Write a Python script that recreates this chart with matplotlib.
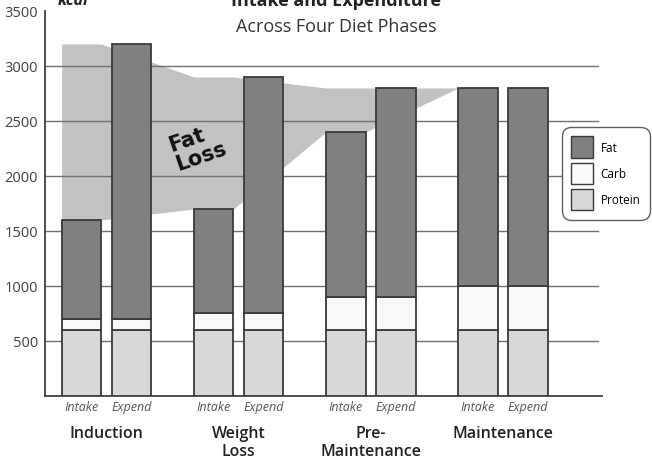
import matplotlib.pyplot as plt
import numpy as np
from matplotlib.patches import Patch

plt.rcParams['font.family'] = ['Open Sans', 'DejaVu Sans']

phases = ['Induction', 'Weight\nLoss', 'Pre-\nMaintenance', 'Maintenance']
bar_labels = ['Intake', 'Expend']

# kcal per component, [intake, expend] for each phase
protein = [[600, 600], [600, 600], [600, 600], [600, 600]]
carb = [[100, 100], [150, 150], [300, 300], [400, 400]]
fat = [[900, 2500], [950, 2150], [1500, 1900], [1800, 1800]]

fat_col = '#808080'
carb_col = '#f8f8f8'
protein_col = '#d8d8d8'
shade_col = '#c2c2c2'
edge_col = '#3a3a3a'

fig = plt.figure(figsize=(6.52, 4.6), dpi=100)
ax = fig.add_axes([0.069, 0.137, 0.854, 0.837])

groups = np.arange(len(phases))
offset = 0.189
width = 0.30

protein = np.array(protein)
carb = np.array(carb)
fat = np.array(fat)
totals = protein + carb + fat

for j, sign in enumerate([-1, 1]):
    x = groups + sign * offset
    ax.bar(x, protein[:, j], width, color=protein_col, edgecolor=edge_col, linewidth=1.3, zorder=3)
    ax.bar(x, carb[:, j], width, bottom=protein[:, j], color=carb_col, edgecolor=edge_col,
           linewidth=1.3, zorder=3)
    ax.bar(x, fat[:, j], width, bottom=protein[:, j] + carb[:, j], color=fat_col,
           edgecolor=edge_col, linewidth=1.3, zorder=3)

# fat loss band: between intake and expenditure, spanning the intake bars
xs, lo, hi = [], [], []
for i in groups:
    for e in (-width / 2, width / 2):
        xs.append(i - offset + e)
        lo.append(totals[i, 0])
        hi.append(totals[i, 1])
xs, lo, hi = xs[:-1], lo[:-1], hi[:-1]
ax.fill_between(xs, lo, hi, color=shade_col, linewidth=0, zorder=1)

ax.text(0.69, 2270, 'Fat\nLoss', fontsize=15, fontweight='heavy', family='DejaVu Sans',
        rotation=19, ha='center', va='center', multialignment='left',
        linespacing=0.95, color='#111111', zorder=2.5)

ax.set_xlim(-0.465, 3.748)
ax.set_ylim(0, 3500)
ax.set_yticks(np.arange(500, 3501, 500))
for yv in np.arange(500, 3001, 500):
    ax.plot([-0.465, 3.72], [yv, yv], color='#707070', linewidth=1.0, zorder=2)

ax.set_xticks([])
ax.tick_params(axis='y', length=0, pad=5, labelsize=10.5, labelcolor='#404040')
for s in ['top', 'right']:
    ax.spines[s].set_visible(False)
for s in ['left', 'bottom']:
    ax.spines[s].set_color('#404040')
    ax.spines[s].set_linewidth(1.3)

for i in groups:
    for j, sign in enumerate([-1, 1]):
        ax.text(i + sign * offset, -95, bar_labels[j], ha='center', va='center',
                fontsize=9, style='italic', color='#555555')
    ax.text(i, -260, phases[i], ha='center', va='top', fontsize=11.5,
            fontweight='semibold', color='#222222', linespacing=1.2)

fig.text(0.515, 0.998, 'Intake and Expenditure', ha='center', va='center',
         fontsize=13, fontweight='bold', color='#222222')
fig.text(0.515, 0.941, 'Across Four Diet Phases', ha='center', va='center',
         fontsize=13, color='#333333')
fig.text(0.089, 0.998, 'kcal', ha='left', va='center', fontsize=11.5,
         fontweight='bold', style='italic', color='#222222')

handles = [Patch(facecolor=fat_col, edgecolor=edge_col, label='Fat'),
           Patch(facecolor=carb_col, edgecolor=edge_col, label='Carb'),
           Patch(facecolor=protein_col, edgecolor=edge_col, label='Protein')]
leg = fig.legend(handles=handles, loc='upper left', bbox_to_anchor=(0.862, 0.722),
                 fontsize=8.5, handlelength=1.86, handleheight=2.4, handletextpad=0.6,
                 labelspacing=0.42, borderpad=0.8, borderaxespad=0, fancybox=True,
                 framealpha=1, edgecolor='#606060')
leg.get_frame().set_linewidth(1.0)
leg.get_frame().set_boxstyle('round', pad=0, rounding_size=0.8)
leg.set_zorder(5)

fig.savefig('out.png', dpi=100)
